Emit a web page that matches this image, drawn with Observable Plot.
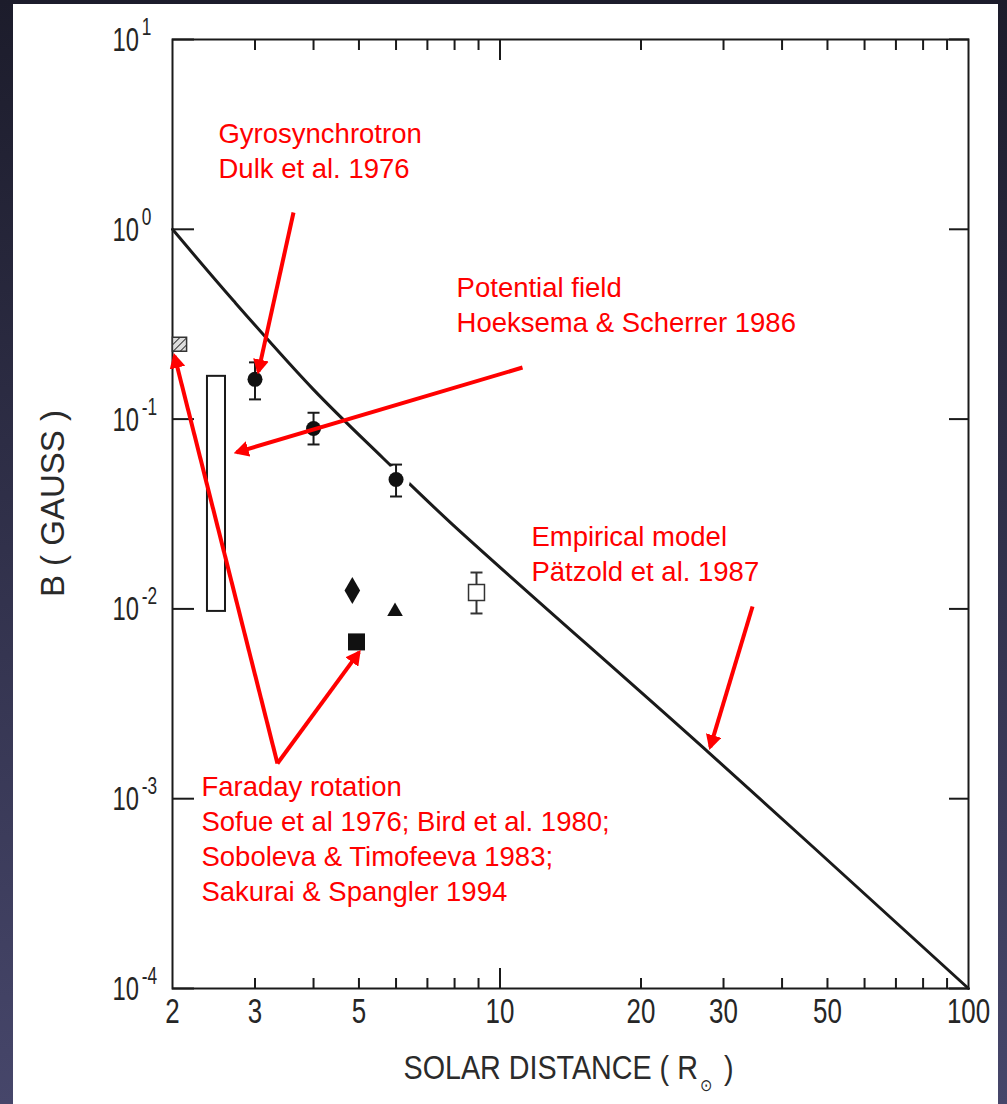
<!DOCTYPE html>
<html>
<head>
<meta charset="utf-8">
<script src="https://cdn.jsdelivr.net/npm/d3@7"></script>
<script src="https://cdn.jsdelivr.net/npm/@observablehq/plot@0.6"></script>
<style>
  html, body { margin: 0; padding: 0; }
  body {
    width: 1007px; height: 1104px; position: relative; overflow: hidden;
    background: linear-gradient(to bottom, #1c1c2b 0%, #2d2d45 40%, #46466a 100%);
  }
  #card { position: absolute; left: 13px; top: 4px; width: 985px; height: 1100px; background: #fff; }
  #chart { position: absolute; left: 0; top: 0; }
</style>
</head>
<body>
<div id="card"></div>
<div id="chart"></div>
<script>
// Coronal magnetic field strength B (gauss) against solar distance (solar radii)

// Empirical radial profile
const modelR = [2, 2.7, 4, 5.64, 7.84, 27.9, 100];
const modelB = [1.0, 0.42, 0.143, 0.062, 0.0285, 0.00175, 1e-4];

// Gyrosynchrotron estimates with error bars
const gyroR  = [3, 4, 6];
const gyroB  = [0.162, 0.0892, 0.0481];
const gyroLo = [0.127, 0.0735, 0.0391];
const gyroHi = [0.199, 0.108, 0.0576];

// Potential-field range (box)
const potR = [2.375, 2.595];
const potB = [0.0097, 0.168];

// Faraday rotation results
const hatchR = [2.07];  const hatchB = [0.248];
const diamondR = [4.84]; const diamondB = [0.0125];
const squareR = [4.94];  const squareB = [0.0067];
const triR = [5.97];     const triB = [0.0097];
const openR = [8.91];    const openB = [0.0122];
const openLo = [0.00946]; const openHi = [0.01555];

// Axis ticks and labels
const xMinor = [3, 4, 5, 6, 7, 8, 9, 20, 30, 40, 50, 60, 70, 80, 90];
const xMajor = [10];
const xLabels = [2, 3, 5, 10, 20, 30, 50, 100];
const yTicks = [10, 1, 0.1, 0.01, 0.001, 0.0001];
const yExp = ["1", "0", "-1", "-2", "-3", "-4"];
const yTitle = "B ( GAUSS )";
const yTitleAt = 0.0359;
const xTitle = "SOLAR DISTANCE ( R\u2299 )";

// Annotation texts and arrows (data coordinates)
const noteText = [
  "Gyrosynchrotron\nDulk et al. 1976",
  "Potential field\nHoeksema & Scherrer 1986",
  "Empirical model\nPätzold et al. 1987",
  "Faraday rotation\nSofue et al 1976; Bird et al. 1980;\nSoboleva & Timofeeva 1983;\nSakurai & Spangler 1994"
];
const noteR = [2.507, 8.08, 11.67, 2.306];
const noteB = [3.835, 0.592, 0.02887, 0.00139];

const arrowR1 = [3.625, 11.17, 34.6, 3.35, 3.35];
const arrowB1 = [1.226, 0.187, 0.0103, 0.001533, 0.001533];
const arrowR2 = [3.05, 2.74, 28.1, 2.02, 5.0];
const arrowB2 = [0.178, 0.0668, 0.00187, 0.215, 0.0059];

const model = modelR.map((r, i) => ({r, b: modelB[i]}));
const gyro = gyroR.map((r, i) => ({r, b: gyroB[i], lo: gyroLo[i], hi: gyroHi[i]}));
const open = openR.map((r, i) => ({r, b: openB[i], lo: openLo[i], hi: openHi[i]}));
const notes = noteText.map((t, i) => ({t, r: noteR[i], b: noteB[i]}));
const arrows = arrowR1.map((r, i) => ({r1: r, b1: arrowB1[i], r2: arrowR2[i], b2: arrowB2[i]}));
const pts = (R, B) => R.map((r, i) => ({r, b: B[i]}));

const ink = "#1a1a1a";
const red = "#f00";
const capSymbol = { draw(ctx) { ctx.moveTo(-6, 0); ctx.lineTo(6, 0); } };

const plot = Plot.plot({
  width: 1007,
  height: 1104,
  marginLeft: 172,
  marginTop: 39,
  marginRight: 39,
  marginBottom: 116,
  x: {type: "log", domain: [2, 100], axis: null, label: null},
  y: {type: "log", domain: [1e-4, 10], axis: null, label: null},
  style: {background: "none", fontFamily: "'Liberation Sans', Arial, sans-serif", overflow: "visible"},
  marks: [
    Plot.frame({stroke: ink, strokeWidth: 2}),
    Plot.axisX(xMinor, {anchor: "bottom", tickSize: -10, fill: "none", stroke: ink, strokeWidth: 2, label: null}),
    Plot.axisX(xMajor, {anchor: "bottom", tickSize: -20, fill: "none", stroke: ink, strokeWidth: 2, label: null}),
    Plot.axisX(xMinor, {anchor: "top", tickSize: -10, fill: "none", stroke: ink, strokeWidth: 2, label: null}),
    Plot.axisX(xMajor, {anchor: "top", tickSize: -20, fill: "none", stroke: ink, strokeWidth: 2, label: null}),
    Plot.axisY(yTicks, {anchor: "left", tickSize: -22, fill: "none", stroke: ink, strokeWidth: 2, label: null}),
    Plot.axisY(yTicks, {anchor: "right", tickSize: -20, fill: "none", stroke: ink, strokeWidth: 2, label: null}),

    // empirical model curve
    Plot.line(model, {x: "r", y: "b", stroke: ink, strokeWidth: 3, curve: "catmull-rom"}),

    // white halo keeps the curve clear of the data points
    Plot.dot(gyro, {x: "r", y: "b", r: 14, fill: "white"}),

    // potential-field range
    Plot.rect([{r1: potR[0], r2: potR[1], b1: potB[0], b2: potB[1]}],
      {x1: "r1", x2: "r2", y1: "b1", y2: "b2", fill: "white", stroke: ink, strokeWidth: 2}),

    // gyrosynchrotron points with error bars
    Plot.ruleX(gyro, {x: "r", y1: "lo", y2: "hi", stroke: ink, strokeWidth: 2}),
    Plot.dot(gyro, {x: "r", y: "lo", symbol: capSymbol, stroke: ink, strokeWidth: 2, fill: "none"}),
    Plot.dot(gyro, {x: "r", y: "hi", symbol: capSymbol, stroke: ink, strokeWidth: 2, fill: "none"}),
    Plot.dot(gyro, {x: "r", y: "b", r: 7.5, fill: "#111"}),

    // Faraday rotation points
    Plot.ruleX(open, {x: "r", y1: "lo", y2: "hi", stroke: "#333", strokeWidth: 2}),
    Plot.dot(open, {x: "r", y: "lo", symbol: capSymbol, stroke: "#333", strokeWidth: 2, fill: "none"}),
    Plot.dot(open, {x: "r", y: "hi", symbol: capSymbol, stroke: "#333", strokeWidth: 2, fill: "none"}),
    Plot.dot(open, {x: "r", y: "b", symbol: "square", r: 9, fill: "white", stroke: "#333", strokeWidth: 1.5}),
    Plot.dot(pts(hatchR, hatchB), {x: "r", y: "b", symbol: "square", r: 8, fill: "url(#hatch)", stroke: "#333", strokeWidth: 1.5}),
    Plot.dot(pts(diamondR, diamondB), {x: "r", y: "b", symbol: "diamond", r: 8.2, fill: "#111"}),
    Plot.dot(pts(squareR, squareB), {x: "r", y: "b", symbol: "square", r: 9.6, fill: "#111"}),
    Plot.dot(pts(triR, triB), {x: "r", y: "b", symbol: "triangle", r: 5.8, fill: "#111"}),

    // annotation arrows
    Plot.link(arrows, {x1: "r1", y1: "b1", x2: "r2", y2: "b2", stroke: red, strokeWidth: 4}),

    // annotation texts
    Plot.text(notes, {x: "r", y: "b", text: "t", textAnchor: "start", lineAnchor: "top",
      fill: red, fontSize: 27.5, lineHeight: 1.27}),

    // y tick labels: "10" followed by a raised exponent
    Plot.text(yTicks, {y: d => d, frameAnchor: "left", text: (d, i) => "10" + yExp[i], textAnchor: "start",
      dx: -60, dy: 1, fontSize: 33, fill: "#252525"}),
    // x tick labels
    Plot.text(xLabels, {x: d => d, frameAnchor: "bottom", text: d => String(d),
      dy: 34, fontSize: 36, fill: "#262626"}),

    // axis titles
    Plot.text([yTitle], {y: () => yTitleAt, frameAnchor: "left", text: d => d, rotate: -90, dx: -119,
      textAnchor: "middle", fontSize: 33, fill: "#2a2a2a"}),
    Plot.text([xTitle], {frameAnchor: "bottom", text: d => d, textAnchor: "start",
      dx: -167, dy: 90, fontSize: 33, fill: "#2b2b2b"})
  ]
});

document.getElementById("chart").append(plot);

const svg = d3.select(plot);
const defs = svg.append("defs");
defs.append("pattern")
  .attr("id", "hatch").attr("patternUnits", "userSpaceOnUse")
  .attr("width", 5).attr("height", 5).attr("patternTransform", "rotate(45)")
  .call(p => p.append("rect").attr("width", 5).attr("height", 5).attr("fill", "#ddd"))
  .append("line").attr("x1", 0).attr("y1", 0).attr("x2", 0).attr("y2", 5)
  .attr("stroke", "#333").attr("stroke-width", 2);
defs.append("marker")
  .attr("id", "head").attr("viewBox", "0 0 15 16").attr("refX", 12).attr("refY", 8)
  .attr("markerWidth", 15).attr("markerHeight", 16).attr("markerUnits", "userSpaceOnUse")
  .attr("orient", "auto")
  .append("path").attr("d", "M0,0L15,8L0,16Z").attr("fill", red);
svg.selectAll(`g[stroke="${red}"] path`).attr("marker-end", "url(#head)");

// narrow lettering: squeeze a text horizontally about its own anchor point
function squeeze(el, factor) {
  const ax = +el.getAttribute("x") || 0;
  const ay = +el.getAttribute("y") || 0;
  const t = el.getAttribute("transform") || "";
  el.setAttribute("transform",
    `${t} translate(${ax},${ay}) scale(${factor},1) translate(${-ax},${-ay})`.trim());
}

// x tick numbers
svg.selectAll('g[fill="#262626"] text').each(function () { squeeze(this, 0.72); });

// y tick labels: base "10" and raised exponent as tspans of one text
svg.selectAll('g[fill="#252525"] text').each(function () {
  const s = this.textContent;
  const t = d3.select(this).text(null);
  t.append("tspan").text(s.slice(0, 2));
  t.append("tspan").text(s.slice(2)).attr("font-size", 24).attr("dx", 4).attr("dy", -16);
  squeeze(this, 0.72);
});

// x title with the solar symbol as a subscript
svg.selectAll('g[fill="#2b2b2b"] text').each(function () {
  const s = this.textContent;
  const k = s.indexOf("\u2299");
  const t = d3.select(this).text(null);
  t.append("tspan").text(s.slice(0, k));
  t.append("tspan").text(s[k]).attr("font-size", 17).attr("dx", 3).attr("dy", 12);
  t.append("tspan").text(s.slice(k + 1)).attr("dy", -12).attr("dx", 4);
  squeeze(this, 0.87);
});
</script>
</body>
</html>
